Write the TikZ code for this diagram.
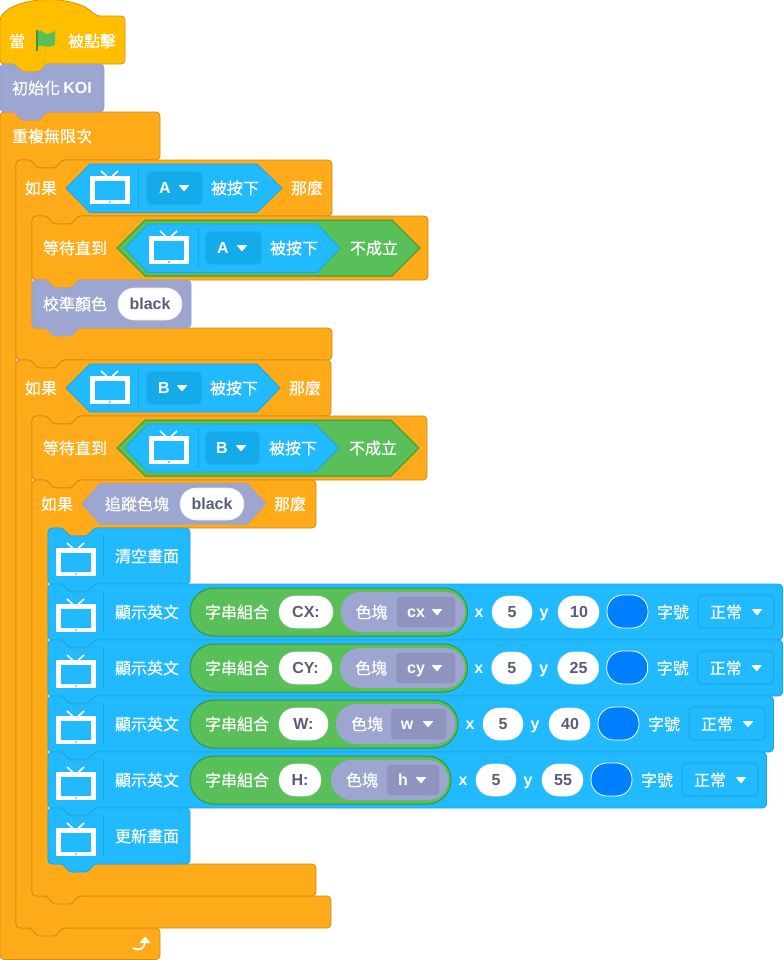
\documentclass[tikz,border=0pt]{standalone}
\usepackage{fontspec}
\setmainfont{Liberation Sans}
\newfontfamily\cjk[FakeBold=0.5]{Noto Sans CJK TC}
\definecolor{orangeF}{HTML}{FFAB19}
\definecolor{orangeB}{HTML}{CF8B17}
\definecolor{hatF}{HTML}{FFBF00}
\definecolor{hatB}{HTML}{CC9900}
\definecolor{blueF}{HTML}{22BAFF}
\definecolor{blueB}{HTML}{1DA5E0}
\definecolor{blueD}{HTML}{14ABEB}
\definecolor{extF}{HTML}{9DA5D1}
\definecolor{extB}{HTML}{9AA2CF}
\definecolor{extD}{HTML}{8E94BE}
\definecolor{greenF}{HTML}{59C059}
\definecolor{greenB}{HTML}{389438}
\definecolor{txtD}{HTML}{575E75}
\definecolor{penB}{HTML}{0080FF}
\newcount\lblnum
\tikzset{
  orangeblk/.style={fill=orangeF,draw=orangeB,line width=.6pt,rounded corners=3pt},
  hatblk/.style={fill=hatF,draw=hatB,line width=.6pt,rounded corners=3pt},
  blueblk/.style={fill=blueF,draw=blueB,line width=.6pt,rounded corners=3pt},
  extblk/.style={fill=extF,draw=extB,line width=.6pt,rounded corners=3pt},
  greenrep/.style={fill=greenF,draw=greenB,line width=.75pt},
  bluerep/.style={fill=blueF,draw=blueB,line width=.6pt},
  extrep/.style={fill=extF,draw=extB,line width=.6pt},
  whitepill/.style={fill=white,draw=black!8,line width=.4pt,rounded corners=11.9pt},
  colorpill/.style={fill=penB,draw=white,line width=.6pt,rounded corners=11.9pt},
  ddbox/.style={draw=blueB,line width=.75pt,rounded corners=3pt},
  ddfill/.style={fill=blueD,draw=blueB,line width=.5pt,rounded corners=3pt},
  ddext/.style={fill=extD,draw=extD,line width=.2pt,rounded corners=2pt},
  sepline/.style={draw=blueB,line width=.5pt},
  lbl/.style={inner sep=0pt,text=white,font=\fontsize{12}{14}\selectfont\cjk,text height=9.2pt,text depth=0pt},
  lat/.style={inner sep=0pt,text=white,font=\fontsize{12}{14}\selectfont\bfseries,text height=8.6pt,text depth=0pt},
  latd/.style={lat,text=txtD},
}
\newcommand\zh[3]{\global\advance\lblnum by 1 \node[lbl] (t\the\lblnum) at ({#1},{#2}) {#3};}
\newcommand\la[3]{\global\advance\lblnum by 1 \node[lat] (t\the\lblnum) at ({#1},{#2}) {#3};}
\newcommand\ld[3]{\global\advance\lblnum by 1 \node[latd] (t\the\lblnum) at ({#1},{#2}) {#3};}
\newcommand\ntop[2]{[rounded corners=1pt] -- ({#1+14},{#2}) -- ({#1+22},{#2+8}) -- ({#1+39},{#2+8}) -- ({#1+47},{#2})}
\newcommand\nbot[2]{[rounded corners=1pt] -- ({#1+47},{#2}) -- ({#1+39},{#2+8}) -- ({#1+22},{#2+8}) -- ({#1+14},{#2})}
\newcommand\rc{[rounded corners=3pt]}
% style x0 x1 y0 y1
\newcommand\stk[5]{\draw[#1] ({#2},{#4+10}) -- ({#2},{#4}) \ntop{#2}{#4} \rc -- ({#3},{#4}) -- ({#3},{#5}) \nbot{#2}{#5} \rc -- ({#2},{#5}) -- cycle;}
% x0 x1 y0 ya xi yb yc
\newcommand\cbl[7]{\draw[orangeblk] ({#1},{#3+10}) -- ({#1},{#3}) \ntop{#1}{#3} \rc -- ({#2},{#3}) -- ({#2},{#4}) \nbot{#5}{#4} \rc -- ({#5},{#4}) -- ({#5},{#6}) -- ({#2},{#6}) -- ({#2},{#7}) \nbot{#1}{#7} \rc -- ({#1},{#7}) -- cycle;}
% tipL flatL flatR tipR ytop ybot style
\newcommand\hexa[7]{\draw[#7,line join=round] ({#1},{(#5+#6)/2}) -- ({#2},{#5}) -- ({#3},{#5}) -- ({#4},{(#5+#6)/2}) -- ({#3},{#6}) -- ({#2},{#6}) -- cycle;}
\newcommand\tri[2]{\fill[white,rounded corners=.6pt] ({#1-5.5},{#2-3}) -- ({#1+5.5},{#2-3}) -- ({#1},{#2+3.5}) -- cycle;}
% cx recttop
\newcommand\tvicon[2]{%
  \fill[white] ({#1-20},{#2}) rectangle ({#1+20},{#2+28});
  \fill[blueF] ({#1-15},{#2+5}) rectangle ({#1+15},{#2+23.5});
  \fill[blueF!60!white] ({#1-1.2},{#2+25}) rectangle ({#1+1.2},{#2+27});
  \draw[white,line width=1.2pt] ({#1-9},{#2-5}) -- ({#1-3.5},{#2}) ({#1+8},{#2-5}) -- ({#1+2.5},{#2});}
\newcommand\pill[5]{\draw[#1] ({#2},{#4}) rectangle ({#3},{#5});}
% ytop dx
\newcommand\rowend[2]{%
  \la{#2+479}{#1+28}{x}
  \pill{whitepill}{#2+492}{#2+532}{#1+12}{#1+44}
  \ld{#2+512}{#1+28}{5}
  \la{#2+544}{#1+28}{y}
  \pill{colorpill}{#2+607}{#2+648}{#1+11}{#1+44}
  \zh{#2+673}{#1+28}{字號}
  \pill{ddbox}{#2+698}{#2+774}{#1+11}{#1+44}
  \zh{#2+726}{#1+28}{正常}
  \tri{#2+757}{#1+28}
  \pill{whitepill}{#2+558}{#2+599}{#1+12}{#1+44}}
% ytop capR captext pL ddL ddR gR ddtext ddtextx
\newcommand\joinpart[9]{%
  \tvicon{76}{#1+20}
  \draw[sepline] (103,{#1+7}) -- (103,{#1+48});
  \zh{147}{#1+28}{顯示英文}
  \pill{greenrep,rounded corners=17.9pt}{190}{#7}{#1+4}{#1+52}
  \zh{237}{#1+28}{字串組合}
  \pill{whitepill}{279}{#2}{#1+12}{#1+44}
  \ld{(279+#2)/2}{#1+28}{#3}
  \pill{extrep,draw=none,rounded corners=14.9pt}{#4}{#7-2.5}{#1+8}{#1+48}
  \zh{#4+31}{#1+28}{色塊}
  \pill{ddext}{#5}{#6}{#1+13}{#1+43}
  \la{#9}{#1+28}{#8}
  \tri{#6-18}{#1+28}}
\begin{document}
\begin{tikzpicture}[x=.75pt,y=-.75pt]
\useasboundingbox (0,0) rectangle (783,960);
\fill[white] (0,0) rectangle (783,960);
% forever
\draw[orangeblk] (0,122) -- (0,112) \ntop{0}{112} \rc -- (160,112) -- (160,160) \nbot{16}{160} \rc -- (16,160) -- (16,928) -- (160,928) -- (160,959.4) -- (0,959.4) -- cycle;
\zh{52}{136}{重複無限次}
% hat
\draw[hatblk] (0,17) .. controls (20,-5) and (76,-5) .. (96,16) -- (125,16) -- (125,64) \nbot{0}{64} \rc -- (0,64) -- cycle;
\zh{17}{41}{當}
\zh{92}{41}{被點擊}
\fill[greenB] (35.8,30) rectangle (37.8,51);
\fill[greenF] (37.8,31) .. controls (42,29) and (44,34) .. (47,34) .. controls (50,34) and (52,32) .. (55,31) -- (55,45) .. controls (51,47) and (49,47) .. (46,46.5) .. controls (43,46) and (41,44.5) .. (37.8,46) -- cycle;
% init
\stk{extblk}{0}{104}{64}{112}
\zh{36}{88}{初始化}
\la{77.5}{88}{KOI}
% IF A
\cbl{16}{332}{160}{216}{32}{328}{360}
\zh{41}{188}{如果}
\hexa{66}{90}{257}{282}{164}{212.5}{bluerep}
\tvicon{110}{176}
\draw[sepline] (138.5,168) -- (138.5,208);
\pill{ddfill}{147}{202}{172}{204}
\la{165}{188}{A}
\tri{184}{188}
\zh{235}{188}{被按下}
\zh{307}{188}{那麼}
% wait A
\stk{orangeblk}{32}{428}{216}{280}
\zh{75}{248}{等待直到}
\hexa{117}{145}{392}{420}{220}{276}{greenrep}
\hexa{125}{148}{317}{340}{224}{272.5}{bluerep}
\tvicon{169}{236}
\draw[sepline] (198,228) -- (198,268);
\pill{ddfill}{206}{261}{232}{264}
\la{223}{248}{A}
\tri{242}{248}
\zh{294}{248}{被按下}
\zh{374}{248}{不成立}
% calibrate
\stk{extblk}{32}{191}{280}{328}
\zh{75}{304}{校準顏色}
\pill{whitepill}{118}{182}{288}{320}
\ld{150}{304}{black}
% IF B
\cbl{16}{331}{360}{416}{32}{896}{928}
\zh{41}{388}{如果}
\hexa{66}{90}{257}{280}{364}{412}{bluerep}
\tvicon{110}{376}
\draw[sepline] (138.5,368) -- (138.5,408);
\pill{ddfill}{147}{201}{372}{404}
\la{164}{388}{B}
\tri{182}{388}
\zh{234}{388}{被按下}
\zh{305}{388}{那麼}
% wait B
\stk{orangeblk}{32}{427}{416}{480}
\zh{75}{448}{等待直到}
\hexa{117}{145}{391}{419}{420}{476}{greenrep}
\hexa{125}{148}{315}{339}{424}{472}{bluerep}
\tvicon{169}{436}
\draw[sepline] (198,428) -- (198,468);
\pill{ddfill}{206}{259}{432}{464}
\la{222}{448}{B}
\tri{241}{448}
\zh{293}{448}{被按下}
\zh{373}{448}{不成立}
% IF tracking
\cbl{32}{316}{480}{528}{48}{864}{896}
\zh{57}{504}{如果}
\hexa{82}{100}{247}{266}{483.5}{524}{extrep}
\zh{137}{504}{追蹤色塊}
\pill{whitepill}{180}{244}{488}{520}
\ld{212}{504}{black}
\zh{290}{504}{那麼}
% clear
\stk{blueblk}{48}{190}{528}{584}
\tvicon{76}{548}
\draw[sepline] (103,535) -- (103,576);
\zh{147}{556}{清空畫面}
% display rows
\stk{blueblk}{48}{782.6}{584}{640}
\joinpart{584}{333}{CX:}{340.5}{397}{455}{467.5}{cx}{416}
\rowend{584}{0}
\ld{579}{612}{10}
\stk{blueblk}{48}{782.6}{640}{696}
\joinpart{640}{332}{CY:}{340}{396.5}{455}{467.5}{cy}{416}
\rowend{640}{-0.3}
\ld{578.5}{668}{25}
\stk{blueblk}{48}{773.5}{696}{752}
\joinpart{696}{328}{W:}{336}{391}{446}{458}{w}{407}
\rowend{696}{-9}
\ld{570}{724}{40}
\stk{blueblk}{48}{766.5}{752}{808}
\joinpart{752}{321}{H:}{331}{387}{439}{451}{h}{403}
\rowend{752}{-16}
\ld{563}{780}{55}
% refresh
\stk{blueblk}{48}{190}{808}{864}
\tvicon{76}{828}
\draw[sepline] (103,815) -- (103,856);
\zh{147}{836}{更新畫面}
% loop arrow
\draw[white,line width=1.3pt] (133,948) .. controls (140,951.5) and (145,948) .. (145,941.5);
\fill[white] (139.5,943) -- (145,936.5) -- (150.5,943) -- cycle;
\end{tikzpicture}
\end{document}
